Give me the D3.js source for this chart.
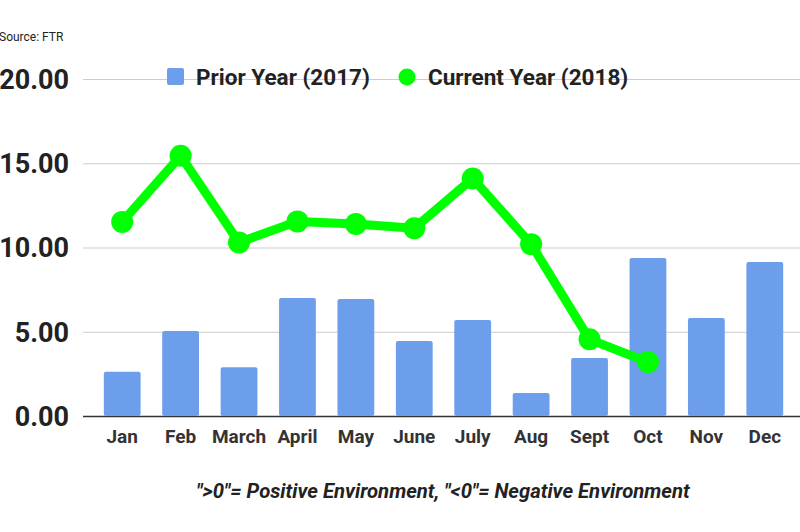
<!DOCTYPE html>
<html><head><meta charset="utf-8">
<script src="https://cdn.jsdelivr.net/npm/d3@7"></script>
<style>body{margin:0;background:#fff;}svg{display:block;font-family:Roboto,"Liberation Sans",sans-serif;}</style>
</head><body>
<svg id="c" width="800" height="532"></svg>
<script>
const months = ["Jan","Feb","March","April","May","June","July","Aug","Sept","Oct","Nov","Dec"];
const prior2017 = [2.62, 5.04, 2.9, 7.0, 6.94, 4.45, 5.7, 1.37, 3.44, 9.38, 5.82, 9.14];
const current2018 = [11.52, 15.45, 10.3, 11.55, 11.4, 11.14, 14.1, 10.2, 4.55, 3.2];
const yTicks = [0, 5, 10, 15, 20];
const seriesNames = ["Prior Year (2017)", "Current Year (2018)"];
const caption = '">0"= Positive Environment, "<0"= Negative Environment';
const source = "Source: FTR";

const svg = d3.select("#c");
const x = d3.scaleBand().domain(months).range([93, 794]).paddingInner(0.37).paddingOuter(0.185);
const y = d3.scaleLinear().domain([0, 20]).range([416, 79]);

// gridlines
const gAxis = svg.append("g").attr("transform", "translate(83,0)")
  .call(d3.axisLeft(y).tickValues(yTicks).tickSize(-717).tickFormat(d3.format(".2f")));
gAxis.select(".domain").remove();
gAxis.selectAll(".tick line").attr("stroke", "#cccccc").attr("stroke-width", 1);
gAxis.selectAll(".tick text").attr("x", -14).attr("dy", "0.35em")
  .attr("font-size", 27).attr("font-weight", "bold").attr("fill", "#222").attr("font-family", "Roboto");
gAxis.selectAll(".tick").filter(d => d === 0).select("line").attr("stroke", "#333").attr("stroke-width", 1.5);

// bars
svg.append("g").selectAll("rect").data(prior2017).join("rect")
  .attr("x", (d, i) => x(months[i])).attr("width", x.bandwidth())
  .attr("y", d => y(d)).attr("height", d => y(0) - y(d))
  .attr("rx", 2).attr("fill", "#6d9eeb");

// line
const pts = current2018.map((v, i) => [x(months[i]) + x.bandwidth() / 2, y(v)]);
svg.append("path").attr("d", d3.line()(pts)).attr("fill", "none")
  .attr("stroke", "#00ff00").attr("stroke-width", 9).attr("stroke-linejoin", "round");
svg.append("g").selectAll("circle").data(pts).join("circle")
  .attr("cx", d => d[0]).attr("cy", d => d[1]).attr("r", 11).attr("fill", "#00ff00");

// x labels
const gx = svg.append("g").attr("transform", "translate(0,416)")
  .call(d3.axisBottom(x).tickSize(0).tickPadding(14));
gx.select(".domain").remove();
gx.selectAll("text").attr("font-size", 19).attr("font-weight", "bold").attr("fill", "#333").attr("font-family", "Roboto");

// legend
const lg = svg.append("g");
lg.append("rect").attr("x", 167).attr("y", 68).attr("width", 17).attr("height", 17).attr("rx", 2).attr("fill", "#6d9eeb");
lg.append("text").attr("x", 196).attr("y", 77).attr("dy", "0.35em").attr("font-size", 22.5).attr("font-weight", "bold").attr("fill", "#222").text(seriesNames[0]);
lg.append("circle").attr("cx", 407).attr("cy", 77).attr("r", 8.5).attr("fill", "#00ff00");
lg.append("text").attr("x", 428).attr("y", 77).attr("dy", "0.35em").attr("font-size", 22.5).attr("font-weight", "bold").attr("fill", "#222").text(seriesNames[1]);

// source
svg.append("text").attr("x", -1).attr("y", 41).attr("font-size", 12).attr("fill", "#222").text(source);

// caption
svg.append("text").attr("x", 443).attr("y", 498).attr("text-anchor", "middle")
  .attr("font-size", 20.3).attr("font-weight", "bold").attr("font-style", "italic").attr("fill", "#222").text(caption);
</script>
</body></html>
